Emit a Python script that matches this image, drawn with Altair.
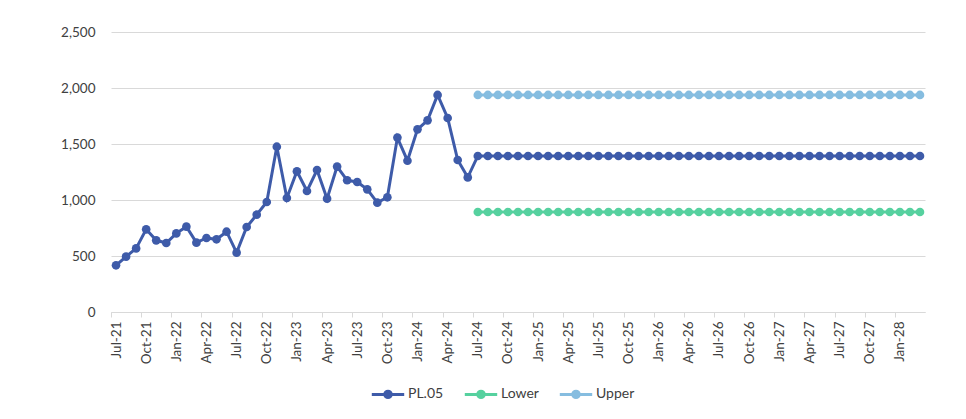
import altair as alt
import pandas as pd

# Month categories (Jul-21 .. Mar-28)
months = list(pd.date_range("2021-07-01", periods=81, freq="MS").strftime("%b-%y"))

# PL.05 actuals Jul-21 .. Jun-24
pl05_actual = [417, 494, 568, 738, 640, 616, 702, 762, 619, 661, 649, 717,
               530, 759, 869, 982, 1476, 1018, 1256, 1080, 1268, 1012, 1298, 1176,
               1161, 1095, 976, 1024, 1557, 1351, 1631, 1711, 1938, 1732, 1357, 1202]
# Flat forecast Jul-24 .. Mar-28
forecast_level = 1393
lower_level = 893
upper_level = 1938
n_forecast = len(months) - len(pl05_actual)

pl05_values = pl05_actual + [forecast_level] * n_forecast
lower_values = [lower_level] * n_forecast
upper_values = [upper_level] * n_forecast

series_names = ["PL.05", "Lower", "Upper"]
series_colors = ["#3e5ba9", "#56d19f", "#86bde0"]

rows = []
for i, v in enumerate(pl05_values):
    rows.append({"series": "PL.05", "idx": i, "value": v})
start = len(pl05_actual)
for j, v in enumerate(lower_values):
    rows.append({"series": "Lower", "idx": start + j, "value": v})
for j, v in enumerate(upper_values):
    rows.append({"series": "Upper", "idx": start + j, "value": v})
df = pd.DataFrame(rows)

n = len(months)
label_arr = "[" + ",".join("'" + m + "'" for m in months) + "]"
tick_vals = list(range(0, n, 3)) + [n]
half = 814 / n / 2

legend_path = "M-1,0H1M-0.2,0A0.2,0.2 0 1,0 0.2,0A0.2,0.2 0 1,0 -0.2,0Z"

chart = alt.Chart(df).mark_line(
    strokeWidth=3,
    point=alt.OverlayMarkDef(filled=True, size=75, opacity=1),
).encode(
    x=alt.X("idx:Q",
            scale=alt.Scale(domain=[-0.5, n - 0.5], nice=False, zero=False),
            axis=alt.Axis(values=tick_vals, title=None, grid=False,
                          labelExpr=f"datum.value < {n} ? {label_arr}[datum.value] : ''",
                          labelAngle=-90, tickOffset=-half, labelOffset=half,
                          domainColor="#d9d9d9", tickColor="#d9d9d9", tickSize=5,
                          labelPadding=4, labelFont="Lato", labelFontSize=13.5,
                          labelColor="#404040")),
    y=alt.Y("value:Q",
            scale=alt.Scale(domain=[0, 2500], nice=False),
            axis=alt.Axis(values=[0, 500, 1000, 1500, 2000, 2500], format=",d",
                          title=None, domain=False, ticks=False, labelPadding=16,
                          gridColor="#d9d9d9", gridWidth=1,
                          labelFont="Lato", labelFontSize=13.5, labelColor="#404040")),
    color=alt.Color("series:N",
                    scale=alt.Scale(domain=series_names, range=series_colors),
                    sort=series_names,
                    legend=alt.Legend(title=None, orient="none", direction="horizontal",
                                      legendX=259, legendY=344,
                                      symbolType=legend_path, symbolSize=1050,
                                      symbolStrokeWidth=3, labelOffset=2,
                                      columnPadding=14,
                                      labelFont="Lato", labelFontSize=14,
                                      labelColor="#404040")),
    order=alt.Order("idx:Q"),
).properties(
    width=814, height=280,
    autosize=alt.AutoSizeParams(type="none"),
    padding={"left": 103, "top": 24, "right": 33, "bottom": 95},
    background="white",
).configure_view(stroke=None)

chart.save("out.html", embed_options={"renderer": "svg", "actions": False})
